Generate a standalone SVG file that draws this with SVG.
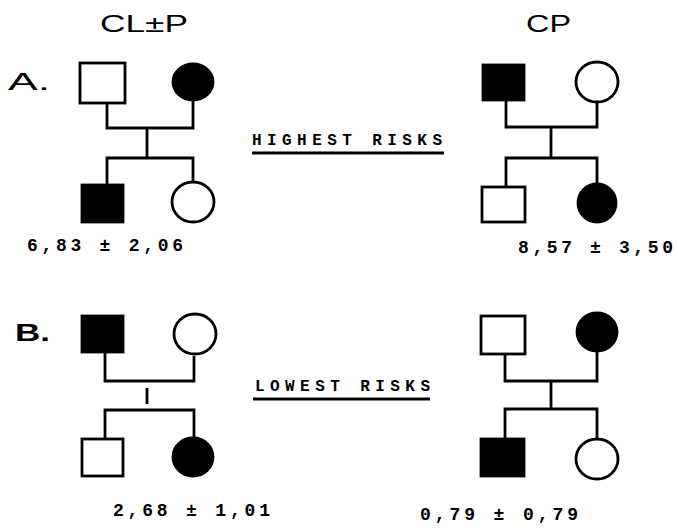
<svg xmlns="http://www.w3.org/2000/svg" width="678" height="528" viewBox="0 0 678 528">
<style>
.open{fill:#fff;stroke:#000;stroke-width:2.8}
.fill{fill:#000;stroke:#000;stroke-width:2.8}
.ln{fill:none;stroke:#000;stroke-width:2.8}
.big{font-family:"Liberation Sans",Arial,sans-serif;font-size:24px;fill:#000}
.lab{font-family:"Liberation Mono","DejaVu Sans Mono",monospace;font-size:18px;font-weight:bold;fill:#000}
.risk{font-family:"Liberation Mono","DejaVu Sans Mono",monospace;font-size:16px;font-weight:bold;fill:#000}
</style>
<rect width="678" height="528" fill="#fff"/>
<g id="titles">
<text class="big" x="100" y="32" textLength="88" lengthAdjust="spacingAndGlyphs">CL±P</text>
<text class="big" x="526" y="32" textLength="45" lengthAdjust="spacingAndGlyphs">CP</text>
<text class="big" x="8" y="90" textLength="42" lengthAdjust="spacingAndGlyphs">A.</text>
<text class="big" x="15" y="341" font-weight="bold" textLength="35" lengthAdjust="spacingAndGlyphs">B.</text>
</g>
<g id="connectors">
<polyline class="ln" points="107,103 107,128 193,128 193,100"/>
<line class="ln" x1="147" y1="128" x2="147" y2="158"/>
<polyline class="ln" points="107,185 107,158 193,158 193,182"/>
<polyline class="ln" points="506,100 506,127 597,127 597,103"/>
<line class="ln" x1="551" y1="127" x2="551" y2="158"/>
<polyline class="ln" points="506,187 506,158 597,158 597,184"/>
<polyline class="ln" points="105,352 105,381 194,381 194,356"/>
<line class="ln" x1="147" y1="388" x2="147" y2="404"/>
<polyline class="ln" points="105,439 105,410 194,410 194,438"/>
<polyline class="ln" points="505,354 505,381 597,381 597,352"/>
<line class="ln" x1="551" y1="381" x2="551" y2="409"/>
<polyline class="ln" points="505,439 505,409 597,409 597,439"/>
<line class="ln" x1="252" y1="153" x2="444" y2="153" stroke-width="2.5"/>
<line class="ln" x1="253" y1="399" x2="430" y2="399" stroke-width="2.5"/>
</g>
<g id="a-left-father"><rect class="open" x="80" y="63" width="45" height="40"/></g>
<g id="a-left-mother"><ellipse class="fill" cx="193" cy="82" rx="20" ry="18"/></g>
<g id="a-left-son"><rect class="fill" x="82" y="185" width="41" height="37"/></g>
<g id="a-left-daughter"><ellipse class="open" cx="193" cy="202" rx="21" ry="20"/></g>
<g id="a-right-father"><rect class="fill" x="483" y="65" width="41" height="35"/></g>
<g id="a-right-mother"><ellipse class="open" cx="597" cy="82" rx="21" ry="20"/></g>
<g id="a-right-son"><rect class="open" x="482" y="187" width="43" height="35"/></g>
<g id="a-right-daughter"><ellipse class="fill" cx="597" cy="203" rx="19" ry="19"/></g>
<g id="b-left-father"><rect class="fill" x="82" y="316" width="41" height="36"/></g>
<g id="b-left-mother"><ellipse class="open" cx="195" cy="334" rx="21" ry="20"/></g>
<g id="b-left-son"><rect class="open" x="82" y="439" width="41" height="37"/></g>
<g id="b-left-daughter"><ellipse class="fill" cx="193" cy="457" rx="20" ry="19"/></g>
<g id="b-right-father"><rect class="open" x="481" y="316" width="44" height="38"/></g>
<g id="b-right-mother"><ellipse class="fill" cx="597" cy="332" rx="20" ry="19"/></g>
<g id="b-right-son"><rect class="fill" x="481" y="439" width="43" height="37"/></g>
<g id="b-right-daughter"><ellipse class="open" cx="597" cy="459" rx="21" ry="20"/></g>
<g id="labels">
<text class="risk" x="252" y="145" textLength="190" lengthAdjust="spacing">HIGHEST RISKS</text>
<text class="risk" x="255" y="391" textLength="175" lengthAdjust="spacing">LOWEST RISKS</text>
<text class="lab" x="27" y="251" textLength="156" lengthAdjust="spacing">6,83 ± 2,06</text>
<text class="lab" x="518" y="253" textLength="155" lengthAdjust="spacing">8,57 ± 3,50</text>
<text class="lab" x="113" y="516" textLength="157" lengthAdjust="spacing">2,68 ± 1,01</text>
<text class="lab" x="420" y="520" textLength="158" lengthAdjust="spacing">0,79 ± 0,79</text>
</g>
</svg>
